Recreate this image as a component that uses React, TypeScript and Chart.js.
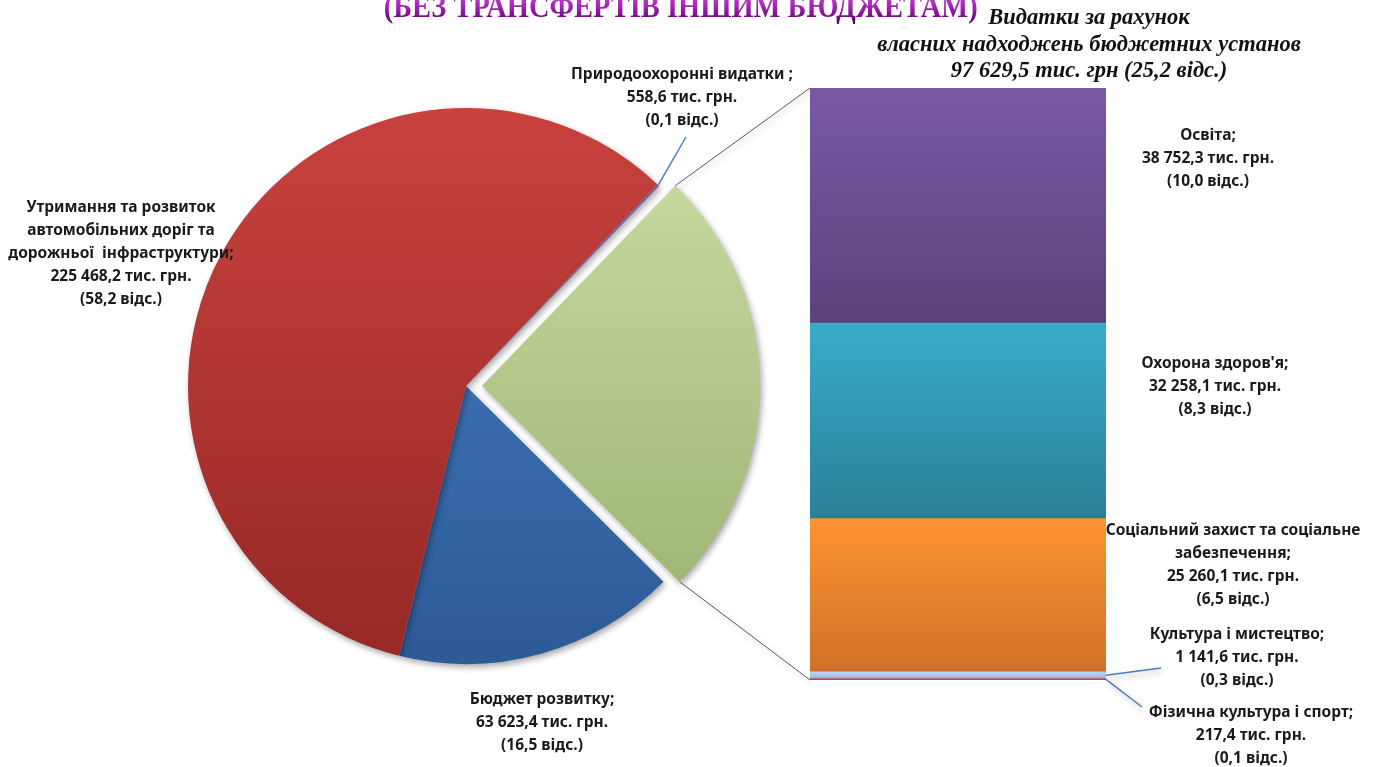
import React, { useEffect, useRef } from "react";
import { Chart, registerables } from "chart.js";
Chart.register(...registerables);

// ---------- data ----------
const pieNames = [
  "",
  "Бюджет розвитку;",
  "Утримання та розвиток\nавтомобільних доріг та\nдорожньої  інфраструктури;",
  "Природоохоронні видатки ;",
];
const pieValues = [97629.5, 63623.4, 225468.2, 558.6];
const piePercents = ["25,2", "16,5", "58,2", "0,1"];

const groupTitle = ["Видатки за рахунок", "власних надходжень бюджетних установ"];
const groupPercent = "25,2";

const barNames = [
  "Фізична культура і спорт;",
  "Культура і мистецтво;",
  "Соціальний захист та соціальне\nзабезпечення;",
  "Охорона здоров'я;",
  "Освіта;",
];
const barValues = [217.4, 1141.6, 25260.1, 32258.1, 38752.3];
const barPercents = ["0,1", "0,3", "6,5", "8,3", "10,0"];

const mainTitle = "(БЕЗ ТРАНСФЕРТІВ ІНШИМ БЮДЖЕТАМ)";

// ---------- styles / layout ----------
const pieColors: [string, string][] = [
  ["rgb(204,222,165)", "rgb(152,176,108)"],
  ["rgb(72,128,198)", "rgb(44,90,150)"],
  ["rgb(200,66,62)", "rgb(150,40,38)"],
  ["rgb(128,100,162)", "rgb(100,76,130)"],
];
const barColors: [string, string][] = [
  ["rgb(200,86,82)", "rgb(180,70,66)"],
  ["rgb(190,215,245)", "rgb(150,185,230)"],
  ["rgb(252,148,52)", "rgb(210,112,38)"],
  ["rgb(56,172,202)", "rgb(42,128,152)"],
  ["rgb(122,88,166)", "rgb(92,66,124)"],
];
const PIE_RADIUS = 278;
const GREEN_OFFSET = 64; // chart.js divides offset by 4

// label anchor centres (x, y of first line centre)
const pieLabelPos: ([number, number] | null)[] = [null, [542, 698], [121, 206], [682, 73]];
const barLabelPos: [number, number][] = [
  [1251, 711],
  [1237, 633],
  [1233, 529],
  [1215, 362],
  [1208, 134],
];
const pieLeaderEnd: ([number, number] | null)[] = [null, null, null, [686, 137]];
const barLeaderEnd: ([number, number] | null)[] = [[1142, 707], [1161, 668], null, null, null];

function fmt(v: number): string {
  const [i, d] = v.toFixed(1).split(".");
  return i.replace(/\B(?=(\d{3})+(?!\d))/g, " ") + "," + d;
}

function labelText(name: string, value: number, pct: string): string[] {
  return [...name.split("\n"), fmt(value) + " тис. грн.", "(" + pct + " відс.)"];
}

export default function App() {
  const pieRef = useRef<HTMLCanvasElement>(null);
  const barRef = useRef<HTMLCanvasElement>(null);

  useEffect(() => {
    if (!pieRef.current || !barRef.current) return;

    const shadowPlugin = {
      id: "shadow",
      beforeDatasetsDraw(chart: any) {
        const c = chart.ctx;
        c.save();
        c.shadowColor = "rgba(0,0,0,0.35)";
        c.shadowBlur = 6;
        c.shadowOffsetX = 2;
        c.shadowOffsetY = 3;
      },
      afterDatasetsDraw(chart: any) {
        chart.ctx.restore();
      },
    };

    const pieLeaders = {
      id: "pieLeaders",
      afterDatasetsDraw(chart: any) {
        const meta = chart.getDatasetMeta(0);
        const c = chart.ctx;
        c.save();
        c.strokeStyle = "#4a7ebb";
        c.lineWidth = 1.5;
        meta.data.forEach((arc: any, i: number) => {
          const end = pieLeaderEnd[i];
          if (!end) return;
          const mid = (arc.startAngle + arc.endAngle) / 2;
          const sx = arc.x + Math.cos(mid) * arc.outerRadius;
          const sy = arc.y + Math.sin(mid) * arc.outerRadius;
          c.beginPath();
          c.moveTo(sx, sy);
          c.lineTo(end[0], end[1]);
          c.stroke();
        });
        c.restore();
      },
    };

    const pie = new Chart(pieRef.current, {
      type: "pie",
      data: {
        labels: pieNames,
        datasets: [
          {
            data: pieValues,
            borderWidth: 0,
            offset: pieValues.map((_, i) => (i === 0 ? GREEN_OFFSET : 0)),
            backgroundColor: (ctx: any) => {
              const chart = ctx.chart;
              const area = chart.chartArea;
              const col = pieColors[ctx.dataIndex] || pieColors[0];
              if (!area) return col[0];
              const cy = (area.top + area.bottom) / 2;
              const g = chart.ctx.createLinearGradient(0, cy - PIE_RADIUS, 0, cy + PIE_RADIUS);
              g.addColorStop(0, col[0]);
              g.addColorStop(1, col[1]);
              return g;
            },
          },
        ],
      },
      options: {
        responsive: false,
        animation: false,
        events: [],
        rotation: 44,
        radius: PIE_RADIUS,
        layout: { padding: { left: 0, right: 445, top: 5, bottom: 0 } },
        plugins: { legend: { display: false }, tooltip: { enabled: false } },
      } as any,
      plugins: [shadowPlugin, pieLeaders],
    });

    const barTotal = barValues.reduce((a, b) => a + b, 0);

    const connectors = {
      id: "connectors",
      afterDatasetsDraw(chart: any) {
        const c = chart.ctx;
        const area = chart.chartArea;
        const arc: any = pie.getDatasetMeta(0).data[0];
        if (!arc) return;
        const mid = (arc.startAngle + arc.endAngle) / 2;
        const circ = arc.endAngle - arc.startAngle;
        const off = GREEN_OFFSET / 4;
        const fix = 1 - Math.sin(Math.min(Math.PI, circ));
        const t = off + off * fix;
        const cx = arc.x + Math.cos(mid) * t;
        const cy = arc.y + Math.sin(mid) * t;
        const p1 = [cx + Math.cos(arc.startAngle) * arc.outerRadius, cy + Math.sin(arc.startAngle) * arc.outerRadius];
        const p2 = [cx + Math.cos(arc.endAngle) * arc.outerRadius, cy + Math.sin(arc.endAngle) * arc.outerRadius];
        c.save();
        c.strokeStyle = "#595959";
        c.lineWidth = 1;
        c.beginPath();
        c.moveTo(p1[0], p1[1]);
        c.lineTo(area.left, area.top);
        c.moveTo(p2[0], p2[1]);
        c.lineTo(area.left, area.bottom);
        c.stroke();

        // leaders for small bar segments
        c.strokeStyle = "#4a7ebb";
        c.lineWidth = 1.5;
        barValues.forEach((_, i) => {
          const end = barLeaderEnd[i];
          if (!end) return;
          const el: any = chart.getDatasetMeta(i).data[0];
          const y = (el.y + el.base) / 2;
          c.beginPath();
          c.moveTo(area.right, y);
          c.lineTo(end[0], end[1]);
          c.stroke();
        });
        c.restore();
      },
    };

    const bar = new Chart(barRef.current, {
      type: "bar",
      data: {
        labels: [""],
        datasets: barValues.map((v, i) => ({
          label: barNames[i],
          data: [v],
          stack: "s",
          borderWidth: 0,
          barPercentage: 1,
          categoryPercentage: 1,
          backgroundColor: (ctx: any) => {
            const chart = ctx.chart;
            const y = chart.scales && chart.scales.y;
            const col = barColors[ctx.datasetIndex];
            if (!y) return col[0];
            let base = 0;
            for (let k = 0; k < ctx.datasetIndex; k++) base += barValues[k];
            const top = y.getPixelForValue(base + barValues[ctx.datasetIndex]);
            const bot = y.getPixelForValue(base);
            if (!isFinite(top) || !isFinite(bot) || Math.abs(bot - top) < 1) return col[0];
            const g = chart.ctx.createLinearGradient(0, top, 0, bot);
            g.addColorStop(0, col[0]);
            g.addColorStop(1, col[1]);
            return g;
          },
        })),
      },
      options: {
        responsive: false,
        animation: false,
        events: [],
        layout: { padding: { left: 810, right: 271, top: 88, bottom: 87 } },
        scales: {
          x: { stacked: true, display: false },
          y: { stacked: true, display: false, min: 0, max: barTotal },
        },
        plugins: { legend: { display: false }, tooltip: { enabled: false } },
      } as any,
      plugins: [connectors, shadowPlugin],
    });

    return () => {
      bar.destroy();
      pie.destroy();
    };
  }, []);

  const labelStyle = (x: number, y: number): React.CSSProperties => ({
    position: "absolute",
    left: x - 200,
    top: y - 11.5,
    width: 400,
    textAlign: "center",
    fontFamily: "'Noto Sans', sans-serif",
    fontWeight: 700,
    fontSize: 15.5,
    lineHeight: "23px",
    color: "#1a1a1a",
    whiteSpace: "pre",
  });

  const groupTotal = pieValues[0];

  return (
    <div
      style={{
        position: "absolute",
        left: 0,
        top: 0,
        width: 1377,
        height: 767,
        overflow: "hidden",
        background: "#fff",
      }}
    >
      <canvas ref={pieRef} width={1377} height={767} style={{ position: "absolute", left: 0, top: 0 }} />
      <canvas ref={barRef} width={1377} height={767} style={{ position: "absolute", left: 0, top: 0 }} />

      <div
        style={{
          position: "absolute",
          left: 181,
          top: -12,
          width: 1000,
          textAlign: "center",
          whiteSpace: "nowrap",
        }}
      >
        <span
          style={{
            display: "inline-block",
            fontFamily: "'Liberation Serif', serif",
            fontWeight: 700,
            fontSize: 32,
            lineHeight: "36px",
            background: "linear-gradient(180deg, #e050f0 0%, #a020b0 55%, #500060 100%)",
            WebkitBackgroundClip: "text",
            backgroundClip: "text",
            color: "transparent",
            transform: "scaleX(0.89)",
            transformOrigin: "center",
          }}
        >
          {mainTitle}
        </span>
      </div>

      <div
        style={{
          position: "absolute",
          left: 1089 - 300,
          top: 4,
          width: 600,
          textAlign: "center",
          fontFamily: "'Liberation Serif', serif",
          fontStyle: "italic",
          fontWeight: 700,
          fontSize: 22.5,
          lineHeight: "26.5px",
          color: "#111",
        }}
      >
        {groupTitle.map((t, i) => (
          <div key={i}>{t}</div>
        ))}
        <div>{fmt(groupTotal) + " тис. грн (" + groupPercent + " відс.)"}</div>
      </div>

      {pieValues.map((v, i) => {
        const pos = pieLabelPos[i];
        if (!pos) return null;
        return (
          <div key={"p" + i} style={labelStyle(pos[0], pos[1])}>
            {labelText(pieNames[i], v, piePercents[i]).join("\n")}
          </div>
        );
      })}
      {barValues.map((v, i) => (
        <div key={"b" + i} style={labelStyle(barLabelPos[i][0], barLabelPos[i][1])}>
          {labelText(barNames[i], v, barPercents[i]).join("\n")}
        </div>
      ))}
    </div>
  );
}
